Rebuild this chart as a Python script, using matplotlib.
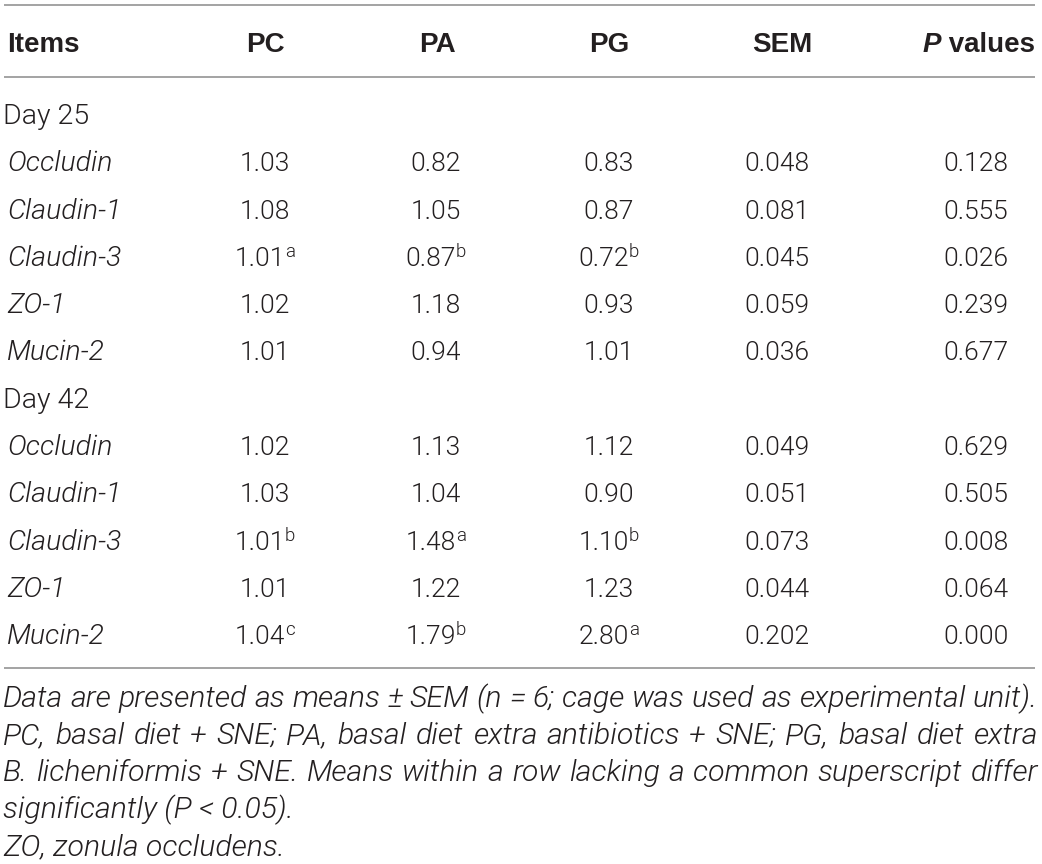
import matplotlib
matplotlib.use("Agg")
import matplotlib.pyplot as plt

# ---------------- data ----------------
columns = ["PC", "PA", "PG", "SEM"]
groups = ["Day 25", "Day 42"]
items = ["Occludin", "Claudin-1", "Claudin-3", "ZO-1", "Mucin-2"]

pc_d25 = [1.03, 1.08, 1.01, 1.02, 1.01]
pa_d25 = [0.82, 1.05, 0.87, 1.18, 0.94]
pg_d25 = [0.83, 0.87, 0.72, 0.93, 1.01]
sem_d25 = [0.048, 0.081, 0.045, 0.059, 0.036]
p_d25 = [0.128, 0.555, 0.026, 0.239, 0.677]
pc_sup_d25 = ["", "", "a", "", ""]
pa_sup_d25 = ["", "", "b", "", ""]
pg_sup_d25 = ["", "", "b", "", ""]

pc_d42 = [1.02, 1.03, 1.01, 1.01, 1.04]
pa_d42 = [1.13, 1.04, 1.48, 1.22, 1.79]
pg_d42 = [1.12, 0.90, 1.10, 1.23, 2.80]
sem_d42 = [0.049, 0.051, 0.073, 0.044, 0.202]
p_d42 = [0.629, 0.505, 0.008, 0.064, 0.000]
pc_sup_d42 = ["", "", "b", "", "c"]
pa_sup_d42 = ["", "", "a", "", "b"]
pg_sup_d42 = ["", "", "b", "", "a"]

footnote_justified = [
    "Data are presented as means \u00b1 SEM (n = 6; cage was used as experimental unit).",
    "PC, basal diet + SNE; PA, basal diet extra antibiotics + SNE; PG, basal diet extra",
    "B. licheniformis + SNE. Means within a row lacking a common superscript differ",
]
footnote_plain = [
    "significantly (P < 0.05).",
    "ZO, zonula occludens.",
]

# ---------------- style ----------------
W, H = 1042, 864
TXT = "#231f20"
RULE = "#9c9c9c"
BODY = dict(family="Roboto", weight=300, fontsize=19, color=TXT)
LABEL = dict(family="Roboto", weight=300, fontsize=20.5, color=TXT)
HEAD = dict(family="Liberation Sans", weight="bold", fontsize=20, color=TXT)
FOOT = dict(family="Roboto", weight=300, style="italic", color=TXT)

fig = plt.figure(figsize=(W / 100, H / 100), dpi=100)
ax = fig.add_axes([0, 0, 1, 1])
ax.set_xlim(0, W)
ax.set_ylim(H, 0)
ax.axis("off")
renderer = fig.canvas.get_renderer()


def width(t):
    return t.get_window_extent(renderer).width


col_x = [265, 436, 609, 777]
p_x = 976
head_x = [265, 437, 609, 782]
label_x = 7
x_left, x_right = 4, 1035

# rules
for yy in (5, 77, 668):
    ax.plot([x_left, x_right], [yy, yy], color=RULE, lw=1.3, solid_capstyle="butt")

# header
head_base = 52
ax.text(label_x, head_base, "Items", ha="left", va="baseline", **HEAD)
for name, x in zip(columns, head_x):
    ax.text(x, head_base, name, ha="center", va="baseline", **HEAD)
tP = ax.text(0, head_base, "P", ha="left", va="baseline", style="italic", **HEAD)
tV = ax.text(0, head_base, " values", ha="left", va="baseline", **HEAD)
wP, wV = width(tP), width(tV)
start = 1035 - (wP + wV)
tP.set_x(start)
tV.set_x(start + wP)


def value_cell(x, y, s, sup):
    t = ax.text(x, y, s, ha="center", va="baseline", **BODY)
    if sup:
        w = width(t)
        ts = ax.text(0, y - 9, sup, ha="left", va="baseline",
                     family="Roboto", weight=300, fontsize=13.5, color=TXT)
        ws = width(ts)
        gap = 0
        total = w + gap + ws
        left = x - total / 2
        t.set_ha("left")
        t.set_x(left)
        ts.set_x(left + w + gap)


pitch = 47.3
base0 = 124
blocks = [
    (pc_d25, pa_d25, pg_d25, sem_d25, p_d25, pc_sup_d25, pa_sup_d25, pg_sup_d25),
    (pc_d42, pa_d42, pg_d42, sem_d42, p_d42, pc_sup_d42, pa_sup_d42, pg_sup_d42),
]
row = 0
for g, blk in zip(groups, blocks):
    y = base0 + pitch * row
    ax.text(3, y, g, ha="left", va="baseline", **LABEL)
    row += 1
    pc, pa, pg, sem, pv, spc, spa, spg = blk
    for i, it in enumerate(items):
        y = base0 + pitch * row
        ax.text(label_x, y, it, ha="left", va="baseline", style="italic", **LABEL)
        value_cell(col_x[0], y, f"{pc[i]:.2f}", spc[i])
        value_cell(col_x[1], y, f"{pa[i]:.2f}", spa[i])
        value_cell(col_x[2], y, f"{pg[i]:.2f}", spg[i])
        value_cell(col_x[3], y, f"{sem[i]:.3f}", "")
        value_cell(p_x, y, f"{pv[i]:.3f}", "")
        row += 1

# footnotes: fit the font size so that the first line fills the width
fx0, fx1 = 3, 1038
probe = ax.text(0, 0, footnote_justified[0], fontsize=20, **FOOT)
fsize = 20 * (fx1 - fx0) / width(probe)
probe.remove()

foot_base = 707
foot_pitch = 37
for k, line in enumerate(footnote_justified):
    y = foot_base + foot_pitch * k
    words = line.split(" ")
    ts = [ax.text(0, y, w_, ha="left", va="baseline", fontsize=fsize, **FOOT) for w_ in words]
    ws = [width(t) for t in ts]
    gap = (fx1 - fx0 - sum(ws)) / (len(words) - 1)
    x = fx0
    for t, w_ in zip(ts, ws):
        t.set_x(x)
        x += w_ + gap
for k, line in enumerate(footnote_plain):
    y = foot_base + foot_pitch * (len(footnote_justified) + k)
    ax.text(fx0, y, line, ha="left", va="baseline", fontsize=fsize, **FOOT)

fig.savefig("out.png", dpi=100)
